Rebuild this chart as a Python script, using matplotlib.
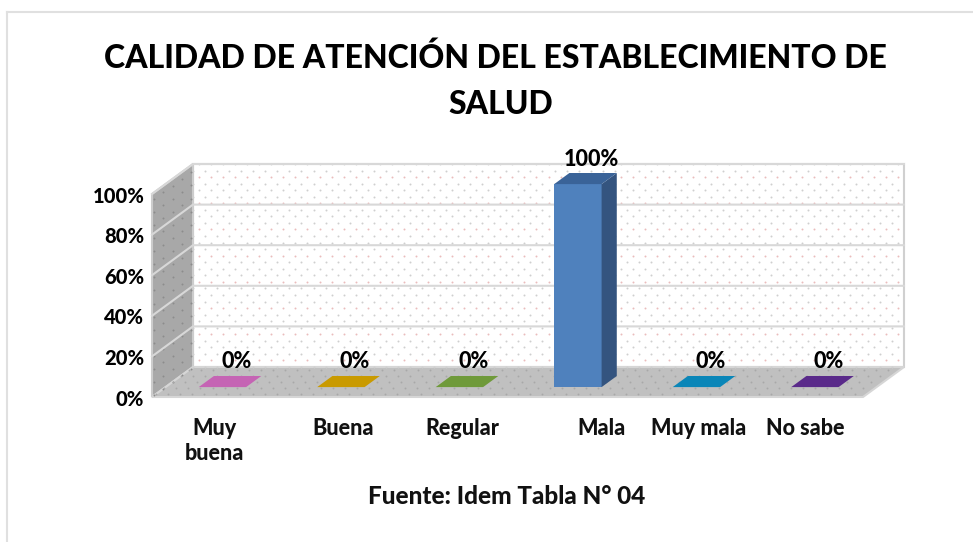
import numpy as np
import matplotlib
matplotlib.use("Agg")
import matplotlib.pyplot as plt
from matplotlib.patches import Polygon

plt.rcParams['font.family'] = ['Lato', 'DejaVu Sans']
plt.rcParams['font.weight'] = 'black'

title_lines = ["CALIDAD DE ATENCIÓN DEL ESTABLECIMIENTO DE", "SALUD"]
source = "Fuente: Idem Tabla N° 04"
categories = ["Muy\nbuena", "Buena", "Regular", "Mala", "Muy mala", "No sabe"]
values = [0, 0, 0, 100, 0, 0]
colors = ["#c564b4", "#c99a00", "#6f9a3a", "#4f81bd", "#0a86b8", "#5a2a8a"]
side_colors = ["#a04f92", "#a07b00", "#587b2e", "#34547f", "#076a92", "#47206e"]
top_colors = ["#c564b4", "#c99a00", "#6f9a3a", "#3a6398", "#0a86b8", "#5a2a8a"]
y_ticks = [0, 20, 40, 60, 80, 100]
# small nudge of each category label, the original ones are not evenly placed
label_shift = [0.03, 0.11, 0.12, 0.29, 0.11, 0.01]

W, H = 973, 542
fig = plt.figure(figsize=(W / 100, H / 100), dpi=100)
ax = fig.add_axes([152 / W, (H - 397) / H, 711 / W, 203 / H])
ax.set_xlim(0, 6)
ax.set_ylim(0, 100)
ax.axis('off')

# 3d look: how far the back of the box is shifted, in data units
DX = 41 / (711 / 6)
DY = 30 / (203 / 100)


def proj(x, y, d):
    return (x + DX * d, y + DY * d)


def quad(pts, **kw):
    ax.add_patch(Polygon(pts, closed=True, clip_on=False, **kw))


# frame of the chart area, only left and top show
fig.add_artist(plt.Line2D([7 / W, 7 / W], [0, (H - 12) / H], color="#e0e0e0", lw=1.5))
fig.add_artist(plt.Line2D([7 / W, 1], [(H - 12) / H, (H - 12) / H], color="#e0e0e0", lw=1.5))

# walls
quad([proj(0, 0, 1), proj(6, 0, 1), proj(6, 100, 1), proj(0, 100, 1)],
     facecolor="white", edgecolor="#d0d0d0", lw=1.5, zorder=1)
quad([proj(0, 0, 0), proj(0, 0, 1), proj(0, 100, 1), proj(0, 100, 0)],
     facecolor="#a8a8a8", edgecolor="#cccccc", lw=1.5, zorder=1)
quad([proj(0, 0, 0), proj(6, 0, 0), proj(6, 0, 1), proj(0, 0, 1)],
     facecolor="#c0c0c0", edgecolor="#d6d6d6", lw=1.5, zorder=1)

# dot pattern on the walls, staggered rows
xs = np.linspace(0, 6, 60)
ys = np.linspace(0, 100, 32)
for j, yy in enumerate(ys):
    xrow = xs + (xs[1] - xs[0]) * 0.5 * (j % 2)
    xrow = xrow[xrow < 6]
    back = proj(xrow, yy, 1)
    col = "#eabcbc" if j % 4 == 1 else "#cfcfcf"
    ax.scatter(back[0], back[1] * np.ones_like(xrow), s=2.0, c=col, linewidths=0,
               clip_on=False, zorder=1.5)
for d in np.linspace(0.06, 0.94, 5):
    for yy in ys[::2]:
        p = proj(0, yy, d)
        ax.scatter(p[0], p[1], s=2.0, c="#8c8c8c", linewidths=0, clip_on=False, zorder=1.5)
for d in np.linspace(0.1, 0.9, 5):
    p = proj(xs, 0, d)
    keep = p[0] < 6 + DX * d
    ax.scatter(p[0][keep], np.full(keep.sum(), p[1]), s=1.8, c="#a8a8a8", linewidths=0,
               clip_on=False, zorder=1.5)

# grid lines on back and side wall
for t in y_ticks[1:]:
    x0, y0 = proj(0, t, 0)
    x1, y1 = proj(0, t, 1)
    x2, y2 = proj(6, t, 1)
    ax.plot([x0, x1, x2], [y0, y1, y2], color="#d8d8d8", lw=1.5, clip_on=False, zorder=2)

# bars, 0% ones are just the flat top
bar_w = 0.4
d0, d1 = 0.33, 0.70
for i, v in enumerate(values):
    cx = i + 0.48
    l, r = cx - bar_w / 2, cx + bar_w / 2
    if v > 0:
        quad([proj(l, 0, d0), proj(r, 0, d0), proj(r, v, d0), proj(l, v, d0)],
             facecolor=colors[i], edgecolor="none", zorder=3)
        quad([proj(r, 0, d0), proj(r, 0, d1), proj(r, v, d1), proj(r, v, d0)],
             facecolor=side_colors[i], edgecolor="none", zorder=3)
    quad([proj(l, v, d0), proj(r, v, d0), proj(r, v, d1), proj(l, v, d1)],
         facecolor=top_colors[i], edgecolor="none", zorder=3)
    tx, ty = proj(cx, v, d1)
    ax.annotate(f"{v}%", (tx, ty), xytext=(-1 if v == 0 else -1, 3 if v == 0 else 2.5),
                textcoords='offset points', ha='center', va='bottom',
                fontsize=15.5, color="black", zorder=5, annotation_clip=False)

# axis labels
for t in y_ticks:
    ax.annotate(f"{t}%", (0, t), xytext=(-5.5, -1.5), textcoords='offset points', ha='right',
                va='center', fontsize=14.5, color="black", annotation_clip=False)
for i, c in enumerate(categories):
    ax.annotate(c, (i + 0.5 + label_shift[i], 0), xytext=(0, -15), textcoords='offset points',
                ha='center', va='top', fontsize=15.5, color="#111111", linespacing=1.25,
                annotation_clip=False)

fig.text(507 / W, (H - 497) / H, source, ha='center', va='center', fontsize=17.5, color="#111111")
fig.text(495 / W, (H - 58) / H, title_lines[0], ha='center', va='center', fontsize=23, color="black")
fig.text(501 / W, (H - 104) / H, title_lines[1], ha='center', va='center', fontsize=23, color="black")

fig.savefig("out.png", dpi=100, facecolor="white")
